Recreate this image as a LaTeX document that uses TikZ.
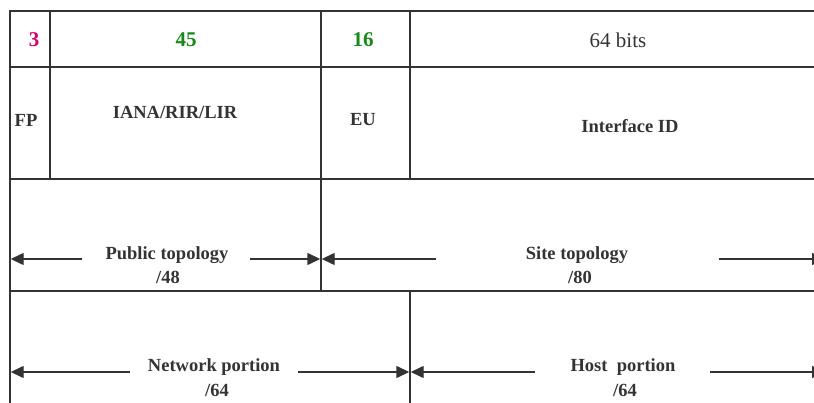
\documentclass[tikz,border=0pt]{standalone}
\usepackage{fontspec}
\setmainfont{Liberation Serif}
\usetikzlibrary{arrows.meta}
\definecolor{linegray}{HTML}{333333}
\definecolor{fpmag}{HTML}{D4006E}
\definecolor{numgreen}{HTML}{17881A}
\tikzset{
  grid/.style={draw=linegray, line width=1.4pt},
  lbl/.style={font=\fontsize{18.5}{20}\selectfont\bfseries, text=linegray, inner sep=0pt, align=center},
  num/.style={font=\fontsize{21}{23}\selectfont\bfseries, inner sep=0pt},
  bits/.style={font=\fontsize{21}{23}\selectfont, text=linegray, inner sep=0pt},
  dimarrow/.style={draw=linegray, line width=1.4pt, -{Triangle[length=13pt,width=12pt]}}
}
\begin{document}
\begin{tikzpicture}[x=1pt,y=-1pt]
\useasboundingbox (0,0) rectangle (814,403);
\clip (0,0) rectangle (814,403);
% grid lines
\draw[grid] (814,11) -- (10,11) -- (10,403);
\draw[grid] (10,67) -- (814,67);
\draw[grid] (10,179) -- (814,179);
\draw[grid] (10,291) -- (814,291);
\draw[grid] (50,11) -- (50,179);
\draw[grid] (321,11) -- (321,291);
\draw[grid] (410,11) -- (410,179);
\draw[grid] (410,291) -- (410,403);
% row 1
\node[num, text=fpmag] (n3) at (34,40) {3};
\node[num, text=numgreen] (n45) at (186,40) {45};
\node[num, text=numgreen] (n16) at (363,40) {16};
\node[bits] (n64) at (618,40) {64 bits};
% row 2
\node[lbl] (fp) at (26,120) {FP};
\node[lbl] (iana) at (175,112) {IANA/RIR/LIR};
\node[lbl] (eu) at (363,120) {EU};
\node[lbl] (iid) at (630,126) {Interface ID};
% row 3
\node[lbl] (pub) at (167,255) {Public topology};
\node[lbl] (pub48) at (168,277) {/48};
\node[lbl] (site) at (577,255) {Site topology};
\node[lbl] (site80) at (580,277) {/80};
% row 4
\node[lbl] (net) at (214,367) {Network portion};
\node[lbl] (net64) at (217,390) {/64};
\node[lbl] (host) at (623,367) {Host\ \ portion};
\node[lbl] (host64) at (625,390) {/64};
% arrow coordinates
\coordinate (pl1) at (82,259);  \coordinate (pl0) at (10.7,259);
\coordinate (pr1) at (250,259); \coordinate (pr0) at (320.3,259);
\coordinate (sl1) at (436,259); \coordinate (sl0) at (321.7,259);
\coordinate (sr1) at (719,259); \coordinate (sr0) at (825,259);
\coordinate (nl1) at (130,372); \coordinate (nl0) at (10.7,372);
\coordinate (nr1) at (298,372); \coordinate (nr0) at (409.3,372);
\coordinate (hl1) at (535,372); \coordinate (hl0) at (410.7,372);
\coordinate (hr1) at (710,372); \coordinate (hr0) at (825,372);
\draw[dimarrow] (pl1) -- (pl0);
\draw[dimarrow] (pr1) -- (pr0);
\draw[dimarrow] (sl1) -- (sl0);
\draw[dimarrow] (sr1) -- (sr0);
\draw[dimarrow] (nl1) -- (nl0);
\draw[dimarrow] (nr1) -- (nr0);
\draw[dimarrow] (hl1) -- (hl0);
\draw[dimarrow] (hr1) -- (hr0);
\end{tikzpicture}
\end{document}
